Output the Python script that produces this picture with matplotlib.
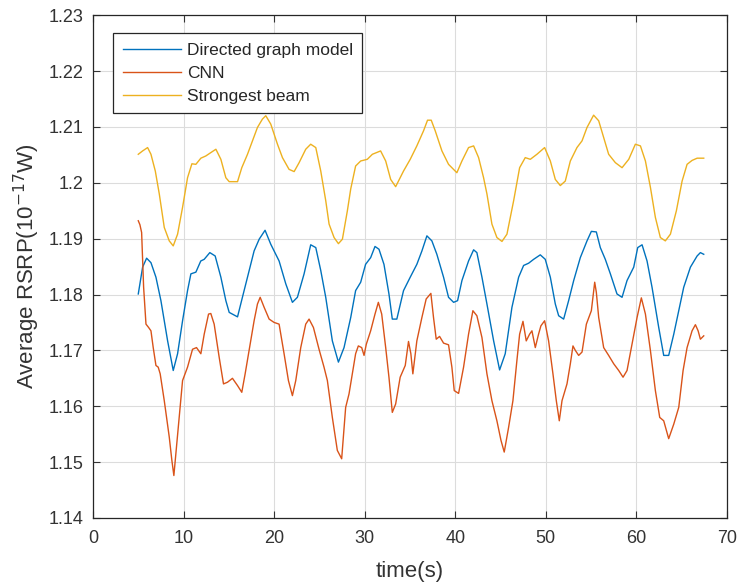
import numpy as np
import matplotlib.pyplot as plt

plt.rcParams['font.family'] = ['Liberation Sans', 'DejaVu Sans']

# Directed graph model
t_dg = [5.0, 5.48, 5.92, 6.4, 6.95, 7.5, 8.24, 8.86, 9.34, 9.89, 10.44, 10.81, 11.36, 11.9,
        12.28, 12.9, 13.49, 14.12, 14.67, 15.04, 15.96, 16.5, 17.06, 17.79, 18.35, 19.0,
        19.63, 20.55, 21.29, 22.02, 22.57, 23.31, 24.04, 24.6, 25.15, 25.7, 26.43, 27.1,
        27.72, 28.46, 29.0, 29.56, 30.1, 30.66, 31.14, 31.58, 32.13, 32.68, 33.05, 33.55,
        34.29, 35.03, 35.76, 36.32, 36.87, 37.42, 37.97, 38.71, 39.26, 39.82, 40.26, 40.74,
        41.47, 42.03, 42.39, 42.95, 43.5, 44.24, 44.9, 45.52, 46.26, 47.0, 47.55, 48.1,
        48.66, 49.39, 49.94, 50.5, 51.05, 51.42, 51.97, 52.52, 53.08, 53.81, 54.55, 55.03,
        55.58, 56.02, 56.57, 57.13, 57.86, 58.42, 58.97, 59.71, 60.15, 60.63, 61.18, 61.73,
        62.47, 63.02, 63.57, 64.13, 64.68, 65.23, 65.97, 66.71, 67.07, 67.44]
rsrp_dg = [1.1801, 1.1849, 1.1865, 1.1857, 1.1831, 1.1789, 1.1717, 1.1664, 1.1694, 1.1753,
           1.1807, 1.1837, 1.1840, 1.1860, 1.1863, 1.1875, 1.1869, 1.1831, 1.1789, 1.1768,
           1.1760, 1.1795, 1.1831, 1.1878, 1.1899, 1.1915, 1.1890, 1.1860, 1.1819, 1.1786,
           1.1795, 1.1837, 1.1889, 1.1884, 1.1843, 1.1795, 1.1717, 1.1679, 1.1705, 1.1759,
           1.1807, 1.1822, 1.1854, 1.1866, 1.1886, 1.1881, 1.1854, 1.1801, 1.1756, 1.1756,
           1.1807, 1.1831, 1.1854, 1.1878, 1.1905, 1.1896, 1.1872, 1.1831, 1.1795, 1.1786,
           1.1789, 1.1825, 1.1860, 1.1880, 1.1875, 1.1831, 1.1783, 1.1717, 1.1665, 1.1694,
           1.1777, 1.1831, 1.1852, 1.1856, 1.1863, 1.1871, 1.1863, 1.1831, 1.1783, 1.1762,
           1.1756, 1.1789, 1.1825, 1.1866, 1.1896, 1.1913, 1.1912, 1.1884, 1.1863, 1.1837,
           1.1801, 1.1795, 1.1825, 1.1849, 1.1884, 1.1889, 1.1860, 1.1813, 1.1741, 1.1691,
           1.1691, 1.1729, 1.1771, 1.1813, 1.1849, 1.1869, 1.1875, 1.1872]

# CNN
t_cnn = [5.0, 5.18, 5.37, 5.48, 5.59, 5.85, 6.14, 6.4, 6.65, 6.95, 7.2, 7.42, 7.87, 8.42,
         8.71, 8.93, 9.15, 9.52, 9.89, 10.44, 10.99, 11.43, 11.91, 12.28, 12.76, 13.01,
         13.38, 13.93, 14.41, 14.85, 15.4, 15.96, 16.43, 16.8, 17.24, 17.79, 18.16, 18.46,
         18.9, 19.45, 20.0, 20.55, 21.1, 21.58, 22.02, 22.39, 22.94, 23.49, 23.86, 24.34,
         24.96, 25.51, 25.88, 26.43, 26.98, 27.46, 27.9, 28.27, 28.64, 29.0, 29.3, 29.67,
         29.93, 30.18, 30.66, 31.14, 31.51, 31.88, 32.32, 32.68, 33.05, 33.42, 33.92, 34.48,
         34.84, 35.1, 35.32, 35.76, 36.32, 36.79, 37.31, 37.6, 37.9, 38.27, 38.71, 39.26,
         39.63, 39.89, 40.37, 40.92, 41.47, 41.95, 42.39, 42.95, 43.5, 44.05, 44.6, 45.05,
         45.41, 45.89, 46.37, 46.81, 47.11, 47.48, 47.84, 48.21, 48.47, 48.84, 49.2, 49.46,
         49.87, 50.31, 50.79, 51.16, 51.49, 51.79, 52.34, 52.71, 53.0, 53.26, 53.63, 54.0,
         54.48, 55.03, 55.4, 55.58, 55.84, 56.39, 56.94, 57.5, 58.05, 58.53, 58.97, 59.52,
         60.08, 60.55, 61.0, 61.55, 62.1, 62.58, 63.02, 63.57, 64.13, 64.68, 65.16, 65.6,
         66.15, 66.52, 66.82, 67.07, 67.44]
rsrp_cnn = [1.1932, 1.1925, 1.1911, 1.1860, 1.1813, 1.1747, 1.1741, 1.1735, 1.1705, 1.1673,
            1.1670, 1.1658, 1.1610, 1.1545, 1.1503, 1.1476, 1.1515, 1.1580, 1.1646, 1.1670,
            1.1702, 1.1705, 1.1694, 1.1729, 1.1765, 1.1766, 1.1747, 1.1688, 1.1640, 1.1643,
            1.1650, 1.1637, 1.1625, 1.1658, 1.1700, 1.1753, 1.1783, 1.1795, 1.1777, 1.1756,
            1.1750, 1.1747, 1.1694, 1.1646, 1.1619, 1.1646, 1.1705, 1.1747, 1.1756, 1.1741,
            1.1702, 1.1670, 1.1646, 1.1580, 1.1521, 1.1506, 1.1598, 1.1622, 1.1658, 1.1694,
            1.1708, 1.1705, 1.1691, 1.1711, 1.1735, 1.1765, 1.1786, 1.1765, 1.1705, 1.1652,
            1.1589, 1.1604, 1.1652, 1.1673, 1.1716, 1.1694, 1.1658, 1.1717, 1.1759, 1.1792,
            1.1802, 1.1759, 1.1720, 1.1725, 1.1713, 1.1710, 1.1670, 1.1628, 1.1623, 1.1670,
            1.1729, 1.1771, 1.1762, 1.1723, 1.1658, 1.1610, 1.1574, 1.1539, 1.1518, 1.1562,
            1.1610, 1.1682, 1.1729, 1.1752, 1.1717, 1.1729, 1.1735, 1.1705, 1.1729, 1.1744,
            1.1753, 1.1717, 1.1658, 1.1610, 1.1574, 1.1610, 1.1640, 1.1676, 1.1708, 1.1700,
            1.1691, 1.1697, 1.1747, 1.1771, 1.1822, 1.1804, 1.1759, 1.1705, 1.1691, 1.1676,
            1.1664, 1.1652, 1.1664, 1.1711, 1.1759, 1.1794, 1.1765, 1.1700, 1.1628, 1.1580,
            1.1574, 1.1542, 1.1568, 1.1598, 1.1664, 1.1705, 1.1735, 1.1746, 1.1735, 1.1720,
            1.1726]

# Strongest beam
t_sb = [5.0, 5.48, 6.03, 6.4, 6.88, 7.32, 7.87, 8.42, 8.86, 9.34, 9.89, 10.44, 10.92, 11.36,
        11.91, 12.46, 13.01, 13.57, 14.12, 14.67, 15.04, 15.96, 16.43, 17.06, 17.61, 18.16,
        18.71, 19.08, 19.63, 20.37, 20.92, 21.65, 22.21, 22.76, 23.49, 24.04, 24.6, 25.15,
        25.7, 26.07, 26.62, 27.1, 27.54, 28.09, 28.46, 29.0, 29.56, 30.29, 30.85, 31.76,
        32.32, 32.87, 33.42, 34.29, 35.03, 35.76, 36.5, 36.94, 37.35, 37.79, 38.53, 39.26,
        40.18, 40.74, 41.47, 42.03, 42.58, 43.13, 43.5, 44.05, 44.6, 45.16, 45.71, 46.45,
        47.11, 47.73, 48.29, 49.02, 49.87, 50.5, 51.05, 51.6, 52.15, 52.71, 53.44, 54.0,
        54.55, 55.28, 55.84, 56.39, 56.94, 57.68, 58.42, 59.16, 59.89, 60.45, 61.0, 61.55,
        62.1, 62.65, 63.2, 63.76, 64.42, 65.05, 65.6, 66.15, 66.71, 67.44]
rsrp_sb = [1.2051, 1.2057, 1.2063, 1.2051, 1.2021, 1.1980, 1.1920, 1.1896, 1.1887, 1.1908,
           1.1956, 1.2009, 1.2034, 1.2033, 1.2044, 1.2048, 1.2054, 1.2060, 1.2042, 1.2009,
           1.2002, 1.2002, 1.2027, 1.2051, 1.2075, 1.2099, 1.2114, 1.2120, 1.2105, 1.2069,
           1.2045, 1.2024, 1.2020, 1.2036, 1.2060, 1.2069, 1.2063, 1.2021, 1.1968, 1.1926,
           1.1902, 1.1891, 1.1899, 1.1950, 1.1989, 1.2030, 1.2039, 1.2042, 1.2051, 1.2057,
           1.2039, 1.2006, 1.1993, 1.2021, 1.2042, 1.2066, 1.2093, 1.2112, 1.2112, 1.2093,
           1.2057, 1.2033, 1.2018, 1.2039, 1.2063, 1.2066, 1.2045, 1.2009, 1.1980, 1.1926,
           1.1902, 1.1895, 1.1908, 1.1968, 1.2027, 1.2045, 1.2042, 1.2051, 1.2063, 1.2039,
           1.2006, 1.1995, 1.2003, 1.2039, 1.2063, 1.2075, 1.2099, 1.2121, 1.2111, 1.2081,
           1.2051, 1.2036, 1.2027, 1.2042, 1.2069, 1.2066, 1.2039, 1.1992, 1.1938, 1.1902,
           1.1896, 1.1908, 1.1950, 1.2003, 1.2033, 1.2040, 1.2044, 1.2044]

txt = '#333333'

fig = plt.figure(figsize=(7.41, 5.83), dpi=100)
ax = fig.add_axes([0.1255, 0.1115, 0.8555, 0.8625])

ax.plot(t_dg, rsrp_dg, color='#0072BD', lw=1.0, label='Directed graph model')
ax.plot(t_cnn, rsrp_cnn, color='#D95319', lw=1.0, label='CNN')
ax.plot(t_sb, rsrp_sb, color='#EDB120', lw=1.0, label='Strongest beam')

ax.set_xlim(0, 70)
ax.set_ylim(1.14, 1.23)
ax.set_xticks(np.arange(0, 71, 10))
ax.set_yticks(np.arange(1.14, 1.2301, 0.01))
ax.set_yticklabels(['1.14', '1.15', '1.16', '1.17', '1.18', '1.19', '1.2', '1.21', '1.22', '1.23'])
ax.grid(True, color='#dcdcdc', lw=0.8)
ax.set_axisbelow(True)
ax.tick_params(direction='in', top=True, right=True, length=5, labelsize=13,
               colors=txt)
ax.tick_params(axis='x', pad=9)
ax.tick_params(axis='y', pad=7)
for s in ax.spines.values():
    s.set_color('#262626')
    s.set_linewidth(0.9)

ax.set_xlabel('time(s)', fontsize=16, color=txt)
ax.xaxis.set_label_coords(0.5, -0.085)
ax.set_ylabel('Average RSRP(10$^{-17}$W)', fontsize=16, color=txt)
ax.yaxis.set_label_coords(-0.08, 0.5)

leg = ax.legend(loc='upper left', bbox_to_anchor=(0.0315, 0.964), fontsize=12.5,
                handlelength=3.35, handletextpad=0.35, labelspacing=0.45,
                borderpad=0.55, borderaxespad=0, fancybox=False, framealpha=1)
leg.get_frame().set_edgecolor('#262626')
leg.get_frame().set_linewidth(0.9)
for t in leg.get_texts():
    t.set_color('#262626')

fig.savefig('out.png', dpi=100)
